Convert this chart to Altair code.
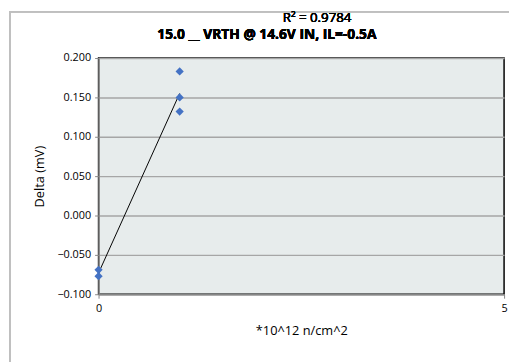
import altair as alt
import pandas as pd

fluence = [0, 0, 1, 1, 1]
delta = [-0.069, -0.077, 0.183, 0.150, 0.132]
title_text = "15.0 __ VRTH @ 14.6V IN, IL=-0.5A"
r2_text = "R² = 0.9784"
y_ticks = [-0.1, -0.05, 0.0, 0.05, 0.1, 0.15, 0.2]
x_ticks = [0, 5]

df = pd.DataFrame({"x": fluence, "y": delta})
FONT = "Open Sans"

base = alt.Chart(df)

xenc = alt.X("x:Q", scale=alt.Scale(domain=[0, 5], nice=False),
             axis=alt.Axis(values=x_ticks, format="d", title="*10^12 n/cm^2", grid=False,
                           titleFontSize=13, titleFontWeight="normal", titleFont=FONT,
                           titleBaseline="middle", titleY=37,
                           labelFontSize=11, labelFont=FONT, labelPadding=5,
                           labelFlush=False, labelOverlap=False,
                           tickSize=4, tickColor="#868686",
                           domainColor="#868686", domainWidth=1.5, labelColor="#000"))
yenc = alt.Y("y:Q", scale=alt.Scale(domain=[-0.1, 0.2], nice=False, zero=False),
             axis=alt.Axis(values=y_ticks, tickCount=7, format=".3f", title="Delta (mV)",
                           titleFontSize=13, titleFontWeight="normal", titleFont=FONT,
                           titleX=-60, titleY=120, titleAngle=-90, titleBaseline="middle",
                           labelFontSize=11, labelFont=FONT, labelPadding=4,
                           labelOverlap=False, labelFlush=False,
                           tickSize=4, tickColor="#868686",
                           domainColor="#868686", domainWidth=1.5,
                           gridColor="#a6a6a6", gridWidth=1.5, labelColor="#000"))

border = base.mark_rect(fill=None, stroke="#bfbfbf", strokeWidth=1.5).encode(
    x=alt.value(-90), x2=alt.value(430), y=alt.value(-47), y2=alt.value(330)
)

points = base.mark_point(shape="diamond", filled=True, color="#4472C4", size=70, opacity=1).encode(
    x=xenc, y=yenc
)

line = base.transform_regression("x", "y").mark_line(color="black", strokeWidth=1).encode(
    x=xenc, y=yenc
)

title = base.mark_text(text=title_text, font=FONT, fontSize=14, fontWeight="bold",
                       baseline="middle", align="center").encode(
    x=alt.value(171), y=alt.value(-23)
)
r2 = base.mark_text(text=r2_text, font=FONT, fontSize=13.5, fontWeight="normal",
                    baseline="middle", align="center").encode(
    x=alt.value(222), y=alt.value(-41)
)

chart = alt.layer(line, points, border, title, r2).properties(
    width=412, height=240,
    autosize=alt.AutoSizeParams(type="none"),
    padding={"left": 92, "top": 48, "right": 5, "bottom": 66},
    background="white",
).configure_view(
    fill="#e7ecec", stroke="black", strokeWidth=1.5
)

chart.save("out.html", embed_options={"renderer": "svg", "actions": False})
